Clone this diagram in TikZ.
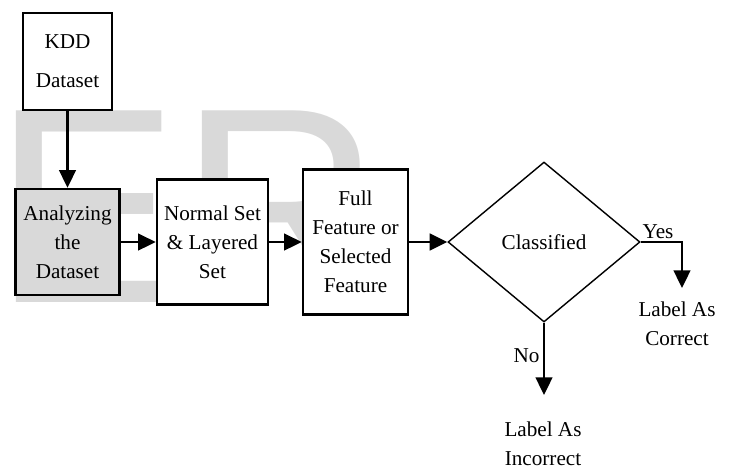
\documentclass[tikz,border=0pt]{standalone}
\usepackage{fontspec}
\setmainfont{Liberation Serif}
\newfontfamily\markfont{Liberation Sans}
\usetikzlibrary{shapes.geometric,arrows.meta}

\begin{document}
\begin{tikzpicture}[x=0.567pt,y=-0.567pt,
  stage/.style={draw=black,rectangle,line width=1.5pt,fill=white,align=center,inner sep=2pt,font=\fontsize{12}{16.4}\selectfont},
  decision/.style={draw=black,diamond,line width=0.8pt,minimum width=192*0.567pt,minimum height=160*0.567pt,inner sep=0pt,font=\fontsize{12}{16}\selectfont},
  outcome/.style={align=center,inner sep=0pt,font=\fontsize{12}{16.4}\selectfont},
  flow/.style={-{Triangle[length=10pt,width=9.5pt]},draw=black,line width=1.3pt},
  branch/.style={-{Triangle[length=10pt,width=9.5pt]},draw=black,line width=1.1pt}]
  \useasboundingbox (0,0) rectangle (731,468);
  \node[anchor=base west,inner sep=0pt,text=gray!30,font=\markfont\fontsize{158}{158}\selectfont] (mark) at (-7,302) {ER};
  \node[stage,minimum width=89*0.567pt,minimum height=97*0.567pt] (kdd) at (67.5,61.5) {KDD\\[5.6pt]Dataset};
  \node[stage,fill=gray!30,minimum width=104*0.567pt,minimum height=106*0.567pt] (analyze) at (67.5,242) {Analyzing\\the\\Dataset};
  \node[stage,minimum width=111*0.567pt,minimum height=125*0.567pt] (sets) at (212.5,242) {Normal Set\\\& Layered\\Set};
  \node[stage,minimum width=105*0.567pt,minimum height=145*0.567pt] (feature) at (355.5,242) {Full\\Feature or\\Selected\\Feature};
  \node[decision] (classify) at (544,242) {Classified};
  \coordinate (yesend) at (682,288);
  \coordinate (noend) at (544,395);
  \node[outcome] (correct) at (677,324) {Label As\\Correct};
  \node[outcome] (incorrect) at (543,444) {Label As\\Incorrect};
  \draw[flow] (kdd) -- (analyze);
  \draw[flow] (analyze) -- (sets);
  \draw[flow] (sets) -- (feature);
  \draw[flow] (feature) -- (classify);
  \draw[branch] (classify.east) -| node[pos=0.21,above,inner sep=1.5pt,font=\fontsize{12}{14}\selectfont] (yes) {Yes} (yesend);
  \draw[branch] (classify.south) -- node[pos=0.45,left,inner sep=2pt,font=\fontsize{12}{14}\selectfont] (no) {No} (noend);
\end{tikzpicture}
\end{document}
